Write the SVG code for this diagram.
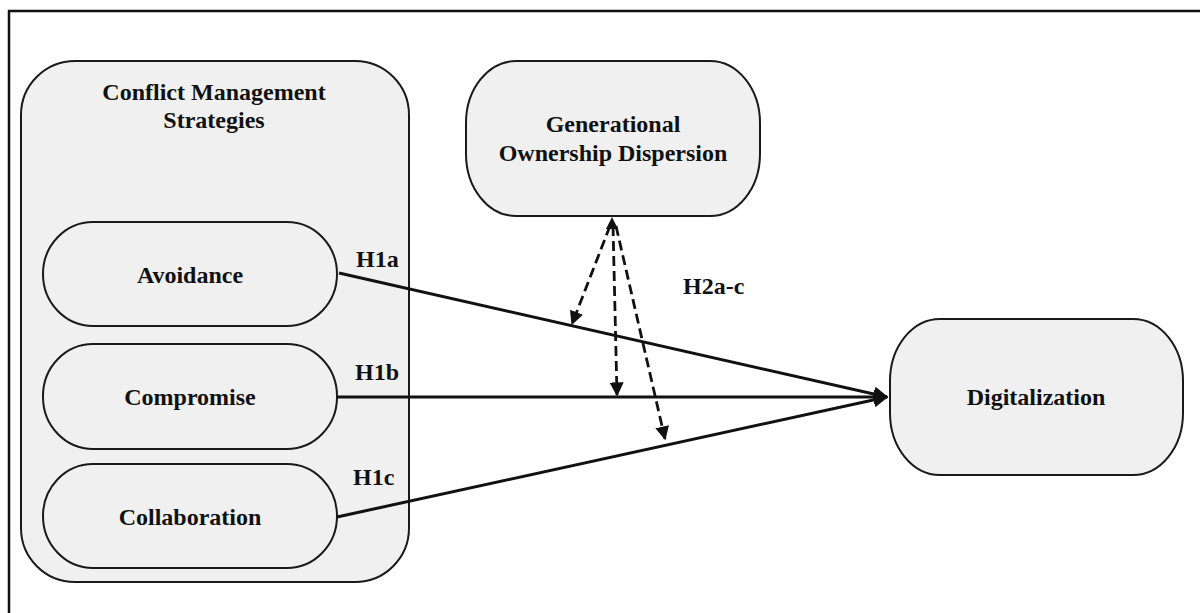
<svg xmlns="http://www.w3.org/2000/svg" width="1200" height="613" viewBox="0 0 1200 613">
<style>
.box{fill:#f0f0f0;stroke:#1a1a1a;stroke-width:2}
.t{font-family:"Liberation Serif","Times New Roman",serif;font-weight:bold;font-size:24px;fill:#111;text-anchor:middle}
.lbl{font-family:"Liberation Serif","Times New Roman",serif;font-weight:bold;font-size:24px;fill:#111}
.solid{stroke:#111;stroke-width:3;fill:none}
.dash{stroke:#111;stroke-width:2.8;fill:none;stroke-dasharray:10,5}
</style>
<defs>
<marker id="ah" viewBox="0 0 10 10" refX="9" refY="5" markerWidth="5" markerHeight="5" orient="auto" markerUnits="strokeWidth">
<path d="M0,0 L10,5 L0,10 z" fill="#111"/>
</marker>
<marker id="ahd" viewBox="0 0 10 10" refX="9" refY="5" markerWidth="5" markerHeight="5" orient="auto" markerUnits="strokeWidth">
<path d="M0,0 L10,5 L0,10 z" fill="#111"/>
</marker>
</defs>
<rect width="1200" height="613" fill="#fff"/>
<path d="M9,613 V11 H1200" fill="none" stroke="#111" stroke-width="2.5"/>

<g id="conflict-management-strategies">
<rect class="box" x="21" y="61" width="388" height="521" rx="54" ry="54"/>
<text class="t" x="214" y="100">Conflict Management</text>
<text class="t" x="214" y="128">Strategies</text>
</g>
<g id="avoidance">
<rect class="box" x="43" y="222" width="294" height="104" rx="50" ry="52"/>
<text class="t" x="190" y="283">Avoidance</text>
</g>
<g id="compromise">
<rect class="box" x="43" y="344" width="294" height="105" rx="50" ry="52"/>
<text class="t" x="190" y="405">Compromise</text>
</g>
<g id="collaboration">
<rect class="box" x="43" y="464" width="294" height="104" rx="50" ry="52"/>
<text class="t" x="190" y="525">Collaboration</text>
</g>
<g id="generational-ownership-dispersion">
<rect class="box" x="466" y="61" width="294" height="155" rx="50" ry="62"/>
<text class="t" x="613" y="132">Generational</text>
<text class="t" x="613" y="161">Ownership Dispersion</text>
</g>
<g id="digitalization">
<rect class="box" x="890" y="319" width="293" height="156" rx="50" ry="62"/>
<text class="t" x="1036" y="405">Digitalization</text>
</g>

<g id="connectors">
<line class="solid" x1="339" y1="273" x2="887" y2="397" marker-end="url(#ah)"/>
<line class="solid" x1="337" y1="397" x2="887" y2="397" marker-end="url(#ah)"/>
<line class="solid" x1="337" y1="517" x2="887" y2="397" marker-end="url(#ah)"/>
<line class="dash" x1="610" y1="226" x2="572" y2="324" marker-end="url(#ahd)"/>
<line class="dash" x1="613" y1="226" x2="617" y2="395" marker-end="url(#ahd)"/>
<line class="dash" x1="616" y1="226" x2="665" y2="439" marker-end="url(#ahd)"/>
<path d="M612,217 L606,229 L618,229 z" fill="#111"/>
</g>

<g id="labels">
<text class="lbl" x="356" y="267">H1a</text>
<text class="lbl" x="355" y="380">H1b</text>
<text class="lbl" x="353" y="485">H1c</text>
<text class="lbl" x="683" y="294">H2a-c</text>
</g>
</svg>
